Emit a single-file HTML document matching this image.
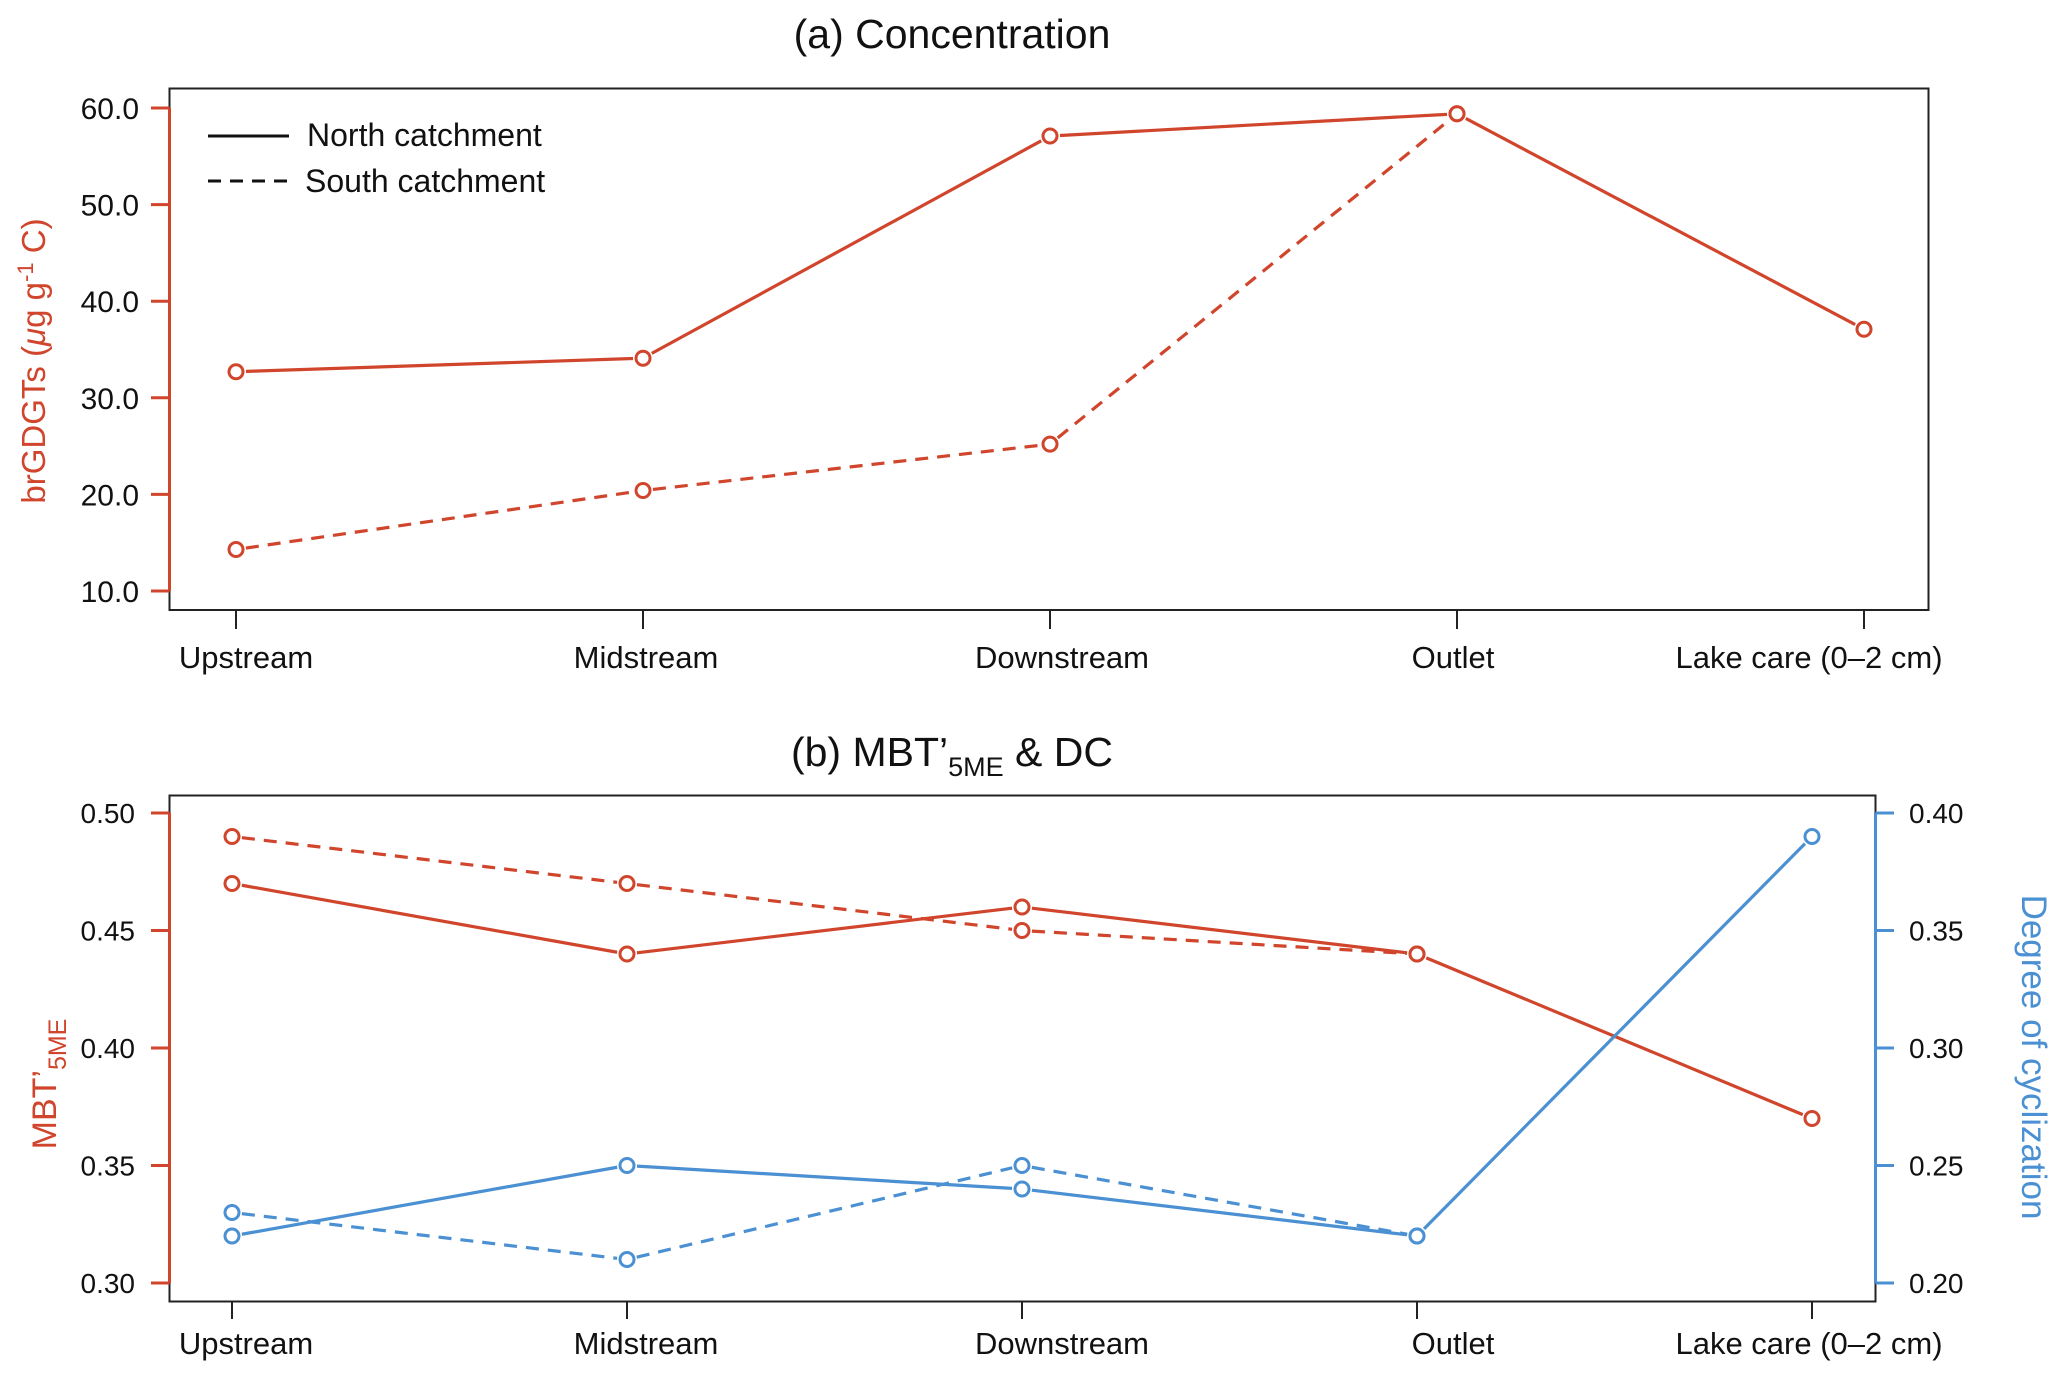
<!DOCTYPE html>
<html><head><meta charset="utf-8"><style>
html,body{margin:0;padding:0;background:#fff}
svg{display:block}
text{font-family:"Liberation Sans",sans-serif}
</style></head><body>
<svg id="chart" width="2067" height="1379" viewBox="0 0 2067 1379" xmlns="http://www.w3.org/2000/svg">
<g id="g"></g>
</svg>
<script>
const categories = ["Upstream","Midstream","Downstream","Outlet","Lake care (0\u20132 cm)"];
const concNorth = [32.7, 34.1, 57.1, 59.4, 37.1];
const concSouth = [14.3, 20.4, 25.2, 59.4];
const concTicks = [10,20,30,40,50,60];
const mbtNorth = [0.47, 0.44, 0.46, 0.44, 0.37];
const mbtSouth = [0.49, 0.47, 0.45, 0.44];
const dcNorth = [0.22, 0.25, 0.24, 0.22, 0.39];
const dcSouth = [0.23, 0.21, 0.25, 0.22];
const mbtTicks = [0.30,0.35,0.40,0.45,0.50];
const dcTicks = [0.20,0.25,0.30,0.35,0.40];

const NS="http://www.w3.org/2000/svg";
const root=document.getElementById('g');
const RED="#d0452c", BLUE="#4a90d2";
function el(tag,attrs,parent){const e=document.createElementNS(NS,tag);for(const k in attrs)e.setAttribute(k,attrs[k]);(parent||root).appendChild(e);return e;}
function txt(s,attrs,parent){const e=el('text',attrs,parent);e.textContent=s;return e;}

const xA = i => 236 + i*407;
const yA = v => 591 - (v-10)*(591-108)/50;
const xB = i => 232 + i*395;
const yBL = v => 1283 - (v-0.30)*(1283-813)/0.20;
const yBR = v => 1283 - (v-0.20)*(1283-813)/0.20;
const labelOff=[14,19,40,36,-3];

function series(vals,xf,yf,color,dashed,name){
  const g=el('g',{});
  
  
  const r=7, gap=10;
  for(let i=0;i<vals.length-1;i++){
    const x1=xf(i),y1=yf(vals[i]),x2=xf(i+1),y2=yf(vals[i+1]);
    const dx=x2-x1,dy=y2-y1,L=Math.hypot(dx,dy);
    if(L<2*gap)continue;
    const ux=dx/L,uy=dy/L;
    const ln=el('line',{x1:x1+ux*gap,y1:y1+uy*gap,x2:x2-ux*gap,y2:y2-uy*gap,stroke:color,'stroke-width':3.2,'stroke-dasharray':dashed?'13 9':'none'},g);
    
    
  }
  vals.forEach((v,i)=>{
    const c=el('circle',{cx:xf(i),cy:yf(v),r:r,fill:'#fff',stroke:color,'stroke-width':3},g);
    
    
  });
}

// ===== Panel A =====
let t=txt("(a) Concentration",{x:952,y:48,'font-size':41,'text-anchor':'middle',fill:'#111'});


let r=el('rect',{x:169.5,y:88.5,width:1759,height:521.5,fill:'none',stroke:'#222','stroke-width':2});


let ax=el('line',{x1:169.5,y1:yA(60),x2:169.5,y2:yA(10),stroke:RED,'stroke-width':3});


concTicks.forEach(v=>{
  const l=el('line',{x1:151,y1:yA(v),x2:169.5,y2:yA(v),stroke:RED,'stroke-width':3});
  
  
  const tt=txt(v.toFixed(1),{x:139,y:yA(v)+11,'font-size':30,'text-anchor':'end',fill:'#111'});
  
  
});
categories.forEach((c,i)=>{
  const l=el('line',{x1:xA(i),y1:610,x2:xA(i),y2:629,stroke:'#222','stroke-width':2});
  
  
  const tt=txt(c,{x:xB(i)+labelOff[i],y:668,'font-size':31,'text-anchor':'middle',fill:'#111'});
  
  
});
t=el('text',{transform:'translate(45,361) rotate(-90)','font-size':33,'text-anchor':'middle',fill:RED});
t.innerHTML='brGDGTs (<tspan font-style="italic">\u03bc</tspan>g g<tspan dy="-12" font-size="22">-1</tspan><tspan dy="12"> C)</tspan>';


let lg=el('g',{});


let l1=el('line',{x1:208,y1:136,x2:289,y2:136,stroke:'#111','stroke-width':3},lg);


t=txt("North catchment",{x:307,y:146,'font-size':32,fill:'#111'},lg);


let l2=el('line',{x1:208,y1:181,x2:289,y2:181,stroke:'#111','stroke-width':3,'stroke-dasharray':'13 9'},lg);


t=txt("South catchment",{x:305,y:192,'font-size':32,fill:'#111'},lg);



series(concNorth,xA,yA,RED,false,'conc-north');
series(concSouth,xA,yA,RED,true,'conc-south');

// ===== Panel B =====
t=el('text',{x:952,y:766,'font-size':41,'text-anchor':'middle',fill:'#111'});
t.innerHTML='(b) MBT\u2019<tspan dy="10" font-size="27">5ME</tspan><tspan dy="-10"> &amp; DC</tspan>';


r=el('rect',{x:169.5,y:795.5,width:1706,height:506,fill:'none',stroke:'#222','stroke-width':2});


ax=el('line',{x1:169.5,y1:yBL(0.5),x2:169.5,y2:yBL(0.3),stroke:RED,'stroke-width':3});


ax=el('line',{x1:1875.5,y1:yBR(0.4),x2:1875.5,y2:yBR(0.2),stroke:BLUE,'stroke-width':3});


mbtTicks.forEach(v=>{
  const l=el('line',{x1:151,y1:yBL(v),x2:169.5,y2:yBL(v),stroke:RED,'stroke-width':3});
  
  
  const tt=txt(v.toFixed(2),{x:135,y:yBL(v)+10,'font-size':28,'text-anchor':'end',fill:'#111'});
  
  
});
dcTicks.forEach(v=>{
  const l=el('line',{x1:1875.5,y1:yBR(v),x2:1894,y2:yBR(v),stroke:BLUE,'stroke-width':3});
  
  
  const tt=txt(v.toFixed(2),{x:1909,y:yBR(v)+10,'font-size':28,'text-anchor':'start',fill:'#111'});
  
  
});
categories.forEach((c,i)=>{
  const l=el('line',{x1:xB(i),y1:1302,x2:xB(i),y2:1319,stroke:'#222','stroke-width':2});
  
  
  const tt=txt(c,{x:xB(i)+labelOff[i],y:1354,'font-size':31,'text-anchor':'middle',fill:'#111'});
  
  
});
t=el('text',{transform:'translate(56,1084) rotate(-90)','font-size':34,'text-anchor':'middle',fill:RED});
t.innerHTML='MBT\u2019<tspan dy="10" font-size="25">5ME</tspan>';


t=txt("Degree of cyclization",{transform:'translate(2022,1057) rotate(90)','font-size':35,'text-anchor':'middle',fill:BLUE});



series(mbtSouth,xB,yBL,RED,true,'mbt-south');
series(mbtNorth,xB,yBL,RED,false,'mbt-north');
series(dcSouth,xB,yBR,BLUE,true,'dc-south');
series(dcNorth,xB,yBR,BLUE,false,'dc-north');
</script>
</body></html>
